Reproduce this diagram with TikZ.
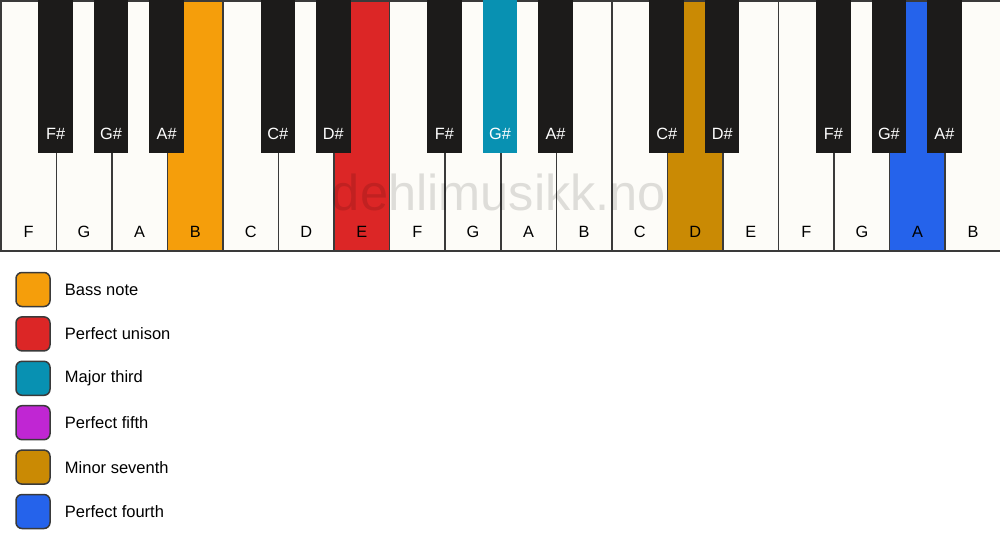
\documentclass[tikz,border=0pt]{standalone}
\usepackage{fontspec}
\setmainfont{Liberation Sans}
\usetikzlibrary{positioning}

\definecolor{ivory}{HTML}{FDFCF8}
\definecolor{ebony}{HTML}{1C1B1A}
\definecolor{keyline}{HTML}{3A3A3A}
\definecolor{bassnote}{HTML}{F59E0B}
\definecolor{unison}{HTML}{DC2626}
\definecolor{majthird}{HTML}{0891B2}
\definecolor{perffifth}{HTML}{C026D3}
\definecolor{minseventh}{HTML}{CA8A04}
\definecolor{perffourth}{HTML}{2563EB}

\tikzset{
  whitekey/.style={draw=keyline, line width=1.5pt, minimum width=55.556pt,
    minimum height=250pt, inner sep=0pt, anchor=north west},
  blackkey/.style={draw=none, minimum width=34.5pt, minimum height=153pt,
    inner sep=0pt, anchor=north},
  keyname/.style={font=\fontsize{16.3}{19}\selectfont, inner sep=0pt},
  swatch/.style={draw=keyline, line width=1.5pt, rounded corners=6pt,
    minimum width=34pt, minimum height=34pt, inner sep=0pt},
  legendtext/.style={font=\fontsize{16.5}{19}\selectfont, anchor=west, inner sep=0pt}
}

\begin{document}
\begin{tikzpicture}[x=1pt, y=-1pt]
  \useasboundingbox (0,0) rectangle (1000,550);

  % white keys
  \foreach \n/\c [count=\i from 0] in {F/ivory, G/ivory, A/ivory, B/bassnote,
      C/ivory, D/ivory, E/unison, F/ivory, G/ivory, A/ivory, B/ivory, C/ivory,
      D/minseventh, E/ivory, F/ivory, G/ivory, A/perffourth, B/ivory} {
    \node[whitekey, fill=\c] (w\i) at (\i*55.556, 0) {};
    \node[keyname, above=20pt of w\i.south, anchor=center] (wl\i) {\n};
  }

  % black keys
  \foreach \n/\c/\i in {F/ebony/0, G/ebony/1, A/ebony/2, C/ebony/4, D/ebony/5,
      F/ebony/7, G/majthird/8, A/ebony/9, C/ebony/11, D/ebony/12,
      F/ebony/14, G/ebony/15, A/ebony/16} {
    \node[blackkey, fill=\c] (b\i) at ({(\i+1)*55.556}, 0) {};
    \node[keyname, text=white, above=20pt of b\i.south, anchor=center] (bl\i) {\n\#};
  }

  % watermark
  \node[font=\fontsize{50.5}{56}\selectfont, text=black, text opacity=0.12]
    (mark) at (499, 192) {dehlimusikk.no};

  % legend
  \foreach \t/\c [count=\k from 0] in {Bass note/bassnote, Perfect unison/unison,
      Major third/majthird, Perfect fifth/perffifth, Minor seventh/minseventh,
      Perfect fourth/perffourth} {
    \node[swatch, fill=\c] (sw\k) at (33, 289.5+\k*44.4) {};
    \node[legendtext, right=14pt of sw\k] (lg\k) {\t};
  }
\end{tikzpicture}
\end{document}
